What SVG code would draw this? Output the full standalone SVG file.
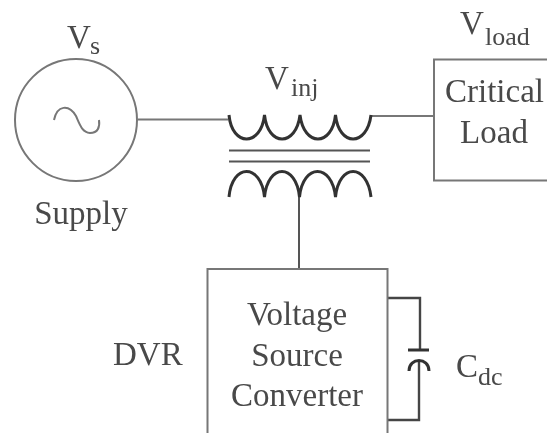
<svg xmlns="http://www.w3.org/2000/svg" width="547" height="433" viewBox="0 0 547 433">
<defs><style>
text{font-family:"Liberation Serif","Times New Roman",serif;fill:#4a4a4a;font-size:33px}
.m{text-anchor:middle}
.s{font-size:26px}
.w{fill:none;stroke:#777;stroke-width:2}
.d{fill:none;stroke:#444;stroke-width:2.4}
.c{fill:none;stroke:#333;stroke-width:3}
.n{fill:none;stroke:#555;stroke-width:2}
</style>
<filter id="b" x="-5%" y="-5%" width="110%" height="110%"><feGaussianBlur stdDeviation="0.5"/></filter></defs>
<rect width="547" height="433" fill="#fff"/>
<g filter="url(#b)">
<g id="connectors">
<path class="w" d="M138 119.500H228"/>
<path class="w" d="M371 116H434"/>
<path class="n" d="M299 195V269"/>
<path class="d" d="M388 298H420V350M419 361V420H388"/>
</g>
<g id="supply">
<circle class="w" cx="76" cy="120" r="61"/>
<path class="w" d="M54 120C57 105 69 104 76 116C80 125 82 132 90 133C98 133 100 127 99 120"/>
<text x="67" y="48">V</text>
<text x="90" y="54" class="s">s</text>
<text class="m" x="81" y="224">Supply</text>
</g>
<g id="transformer">
<path class="c" d="M229 115C232 147 261 147 264.500 115C268 147 296 147 300 115C304 147 332 147 335.500 115C339 147 367 147 371 115"/>
<path class="n" d="M229 150.500H370M229 161.500H370"/>
<path class="c" d="M229 197C232 163 261 163 264.500 197C268 163 296 163 299.500 197C303 163 332 163 335.500 197C339 163 367 163 371 197"/>
<text x="265" y="89">V</text>
<text x="291" y="96" class="s">inj</text>
</g>
<g id="critical-load">
<rect class="w" x="434" y="59.500" width="120" height="121"/>
<text x="445" y="102">Critical</text>
<text class="m" x="494" y="143">Load</text>
<text x="460" y="34">V</text>
<text x="485" y="45" class="s">load</text>
</g>
<g id="voltage-source-converter">
<rect class="w" x="207.500" y="269" width="180" height="180"/>
<text class="m" x="297" y="325">Voltage</text>
<text class="m" x="297" y="366">Source</text>
<text class="m" x="297" y="406">Converter</text>
<text x="113" y="365">DVR</text>
</g>
<g id="capacitor">
<path class="c" d="M408 350H429"/>
<path class="c" d="M409 371C409 357 429 357 429 371"/>
<text x="456" y="377">C</text>
<text x="478" y="385" class="s">dc</text>
</g>
</g>
</svg>
